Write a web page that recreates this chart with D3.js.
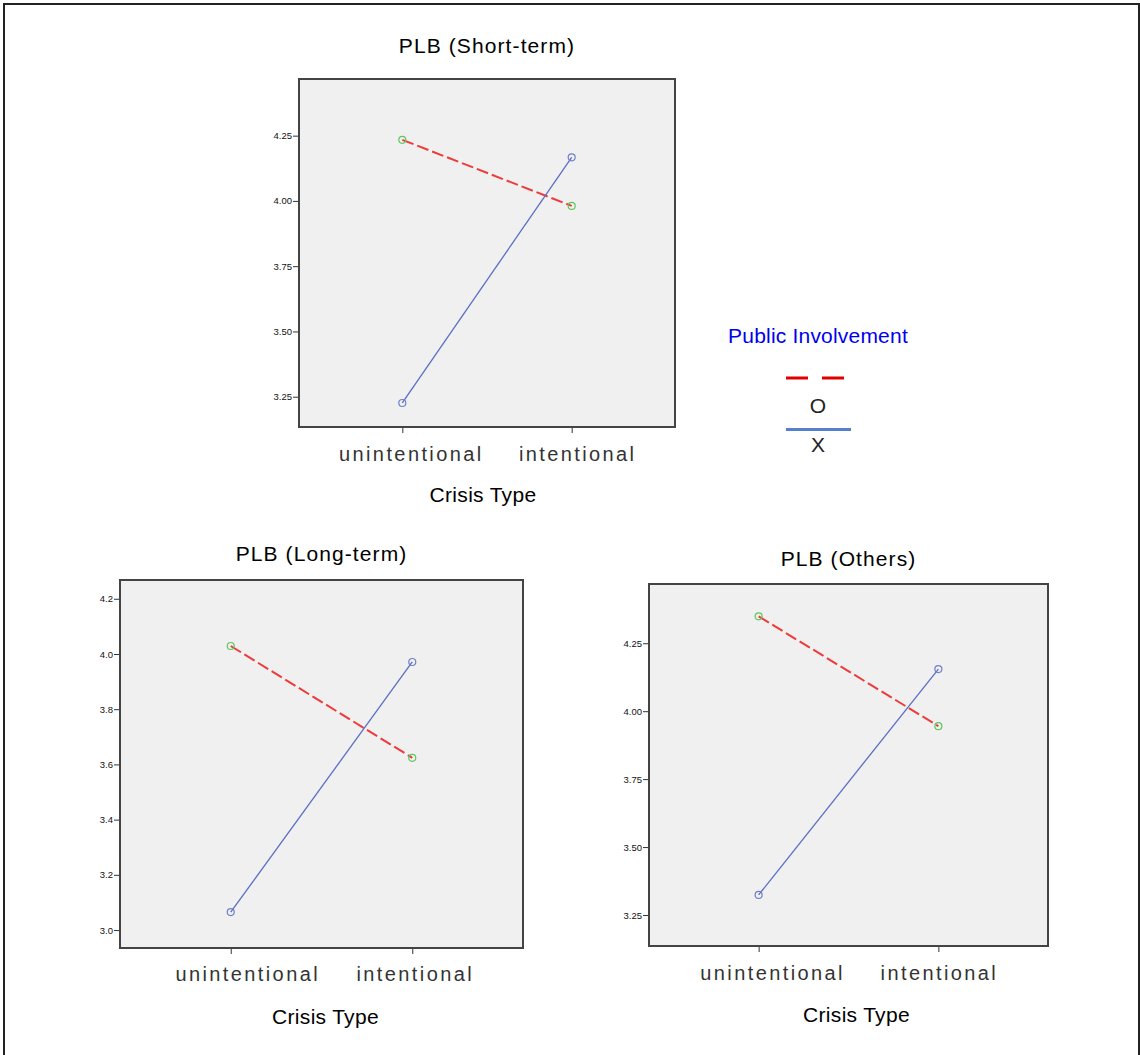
<!DOCTYPE html>
<html>
<head>
<meta charset="utf-8">
<script src="https://cdn.jsdelivr.net/npm/d3@7"></script>
<style>
  body { margin: 0; background: #fff; }
  svg text { font-family: "Liberation Sans", Arial, sans-serif; }
</style>
</head>
<body>
<svg id="chart" width="1140" height="1055"></svg>
<script>
// categories / groups
const crisisTypes = ["unintentional", "intentional"];
const groupNames = ["O", "X"];
const panelTitles = ["PLB (Short-term)", "PLB (Long-term)", "PLB (Others)"];

// estimated means per panel (O = dashed red, X = solid blue)
const shortTermO = [4.234, 3.981];
const shortTermX = [3.226, 4.167];
const longTermO = [4.029, 3.624];
const longTermX = [3.065, 3.971];
const othersO = [4.349, 3.945];
const othersX = [3.324, 4.155];

// tick labels
const ticksQuarter = [3.25, 3.50, 3.75, 4.00, 4.25];
const ticksTenth = [3.0, 3.2, 3.4, 3.6, 3.8, 4.0, 4.2];

// layout of the three panels (plot box in px, y-domain)
const panels = [
  { title: panelTitles[0], o: shortTermO, x: shortTermX, ticks: ticksQuarter, fmt: ".2f",
    box: { left: 299, top: 79, width: 376, height: 348 }, domain: [3.134, 4.467],
    titleY: 53, catY: 461, catDx: [9, 6], axisTitle: { dx: -4, y: 502 } },
  { title: panelTitles[1], o: longTermO, x: longTermX, ticks: ticksTenth, fmt: ".1f",
    box: { left: 120, top: 580, width: 403, height: 368 }, domain: [2.935, 4.268],
    titleY: 561, catY: 981, catDx: [17, 3], axisTitle: { dx: 4, y: 1024 } },
  { title: panelTitles[2], o: othersO, x: othersX, ticks: ticksQuarter, fmt: ".2f",
    box: { left: 649, top: 584, width: 399, height: 362 }, domain: [3.136, 4.468],
    titleY: 566, catY: 980, catDx: [14, 1], axisTitle: { dx: 8, y: 1022 } }
];

const colorO = "#ee3a3a", colorX = "#5a6ec4";
const markO = "#5cc85c", markX = "#6f80c8";

let svg = d3.select("#chart");

// outer frame
svg.append("rect")
  .attr("x", 4).attr("y", 4)
  .attr("width", 1135).attr("height", 1070)
  .attr("fill", "none").attr("stroke", "#222").attr("stroke-width", 2);

panels.forEach(p => draw_panel(p));

function draw_panel(p) {
  let b = p.box;
  let g = svg.append("g");

  let x = d3.scalePoint().domain(crisisTypes)
    .range([b.left, b.left + b.width]).padding(0.61);
  let y = d3.scaleLinear(p.domain, [b.top + b.height, b.top]);

  // plot background
  g.append("rect")
    .attr("x", b.left).attr("y", b.top)
    .attr("width", b.width).attr("height", b.height)
    .attr("fill", "#f0f0f0");

  // y axis
  g.append("g")
    .attr("transform", `translate(${b.left},0)`)
    .call(d3.axisLeft(y).tickValues(p.ticks).tickFormat(d3.format(p.fmt)).tickSize(6).tickPadding(1))
    .call(a => a.select(".domain").remove())
    .call(a => a.selectAll("line").attr("stroke", "#333"))
    .call(a => a.selectAll("text").attr("font-size", 9.5).attr("fill", "#111")
      .attr("font-family", "Liberation Sans, Arial, sans-serif"));

  // x axis ticks
  g.append("g")
    .attr("transform", `translate(0,${b.top + b.height})`)
    .call(d3.axisBottom(x).tickSize(6).tickFormat(""))
    .call(a => a.select(".domain").remove())
    .call(a => a.selectAll("line").attr("stroke", "#333"));

  // box frame
  g.append("rect")
    .attr("x", b.left).attr("y", b.top)
    .attr("width", b.width).attr("height", b.height)
    .attr("fill", "none").attr("stroke", "#444").attr("stroke-width", 2);

  let line = d3.line().x((d, i) => x(crisisTypes[i])).y(d => y(d));

  // O : dashed red
  g.append("path").datum(p.o)
    .attr("d", line).attr("fill", "none")
    .attr("stroke", colorO).attr("stroke-width", 2)
    .attr("stroke-dasharray", "12,4");
  // X : solid blue
  g.append("path").datum(p.x)
    .attr("d", line).attr("fill", "none")
    .attr("stroke", colorX).attr("stroke-width", 1.3);

  // markers
  [[p.o, markO], [p.x, markX]].forEach(([vals, c]) => {
    g.selectAll(null).data(vals).join("circle")
      .attr("cx", (d, i) => x(crisisTypes[i]))
      .attr("cy", d => y(d))
      .attr("r", 3.5)
      .attr("fill", "none").attr("stroke", c).attr("stroke-width", 1.2);
  });

  // title
  g.append("text")
    .attr("x", b.left + b.width / 2).attr("y", p.titleY)
    .attr("text-anchor", "middle").attr("font-size", 21).attr("letter-spacing", 1.1)
    .attr("fill", "#000")
    .text(p.title);

  // category labels
  g.selectAll(null).data(crisisTypes).join("text")
    .attr("x", (d, i) => x(d) + p.catDx[i]).attr("y", p.catY)
    .attr("text-anchor", "middle").attr("font-size", 20)
    .attr("letter-spacing", 2.4).attr("fill", "#333")
    .text(d => d);

  // axis title
  g.append("text")
    .attr("x", b.left + b.width / 2 + p.axisTitle.dx).attr("y", p.axisTitle.y)
    .attr("text-anchor", "middle").attr("font-size", 21).attr("letter-spacing", 0.3)
    .attr("fill", "#000")
    .text("Crisis Type");
}

// legend
let lg = svg.append("g");
lg.append("text")
  .attr("x", 818).attr("y", 343)
  .attr("text-anchor", "middle").attr("font-size", 21).attr("letter-spacing", 0.2)
  .attr("fill", "#0000ee")
  .text("Public Involvement");
lg.append("line")
  .attr("x1", 786).attr("x2", 844).attr("y1", 378).attr("y2", 378)
  .attr("stroke", "#e00000").attr("stroke-width", 3).attr("stroke-dasharray", "22,14");
lg.append("text")
  .attr("x", 818).attr("y", 413)
  .attr("text-anchor", "middle").attr("font-size", 21).attr("fill", "#222")
  .text(groupNames[0]);
lg.append("line")
  .attr("x1", 786).attr("x2", 851).attr("y1", 429.5).attr("y2", 429.5)
  .attr("stroke", "#5580cc").attr("stroke-width", 3);
lg.append("text")
  .attr("x", 818).attr("y", 452)
  .attr("text-anchor", "middle").attr("font-size", 21).attr("fill", "#222")
  .text(groupNames[1]);
</script>
</body>
</html>
